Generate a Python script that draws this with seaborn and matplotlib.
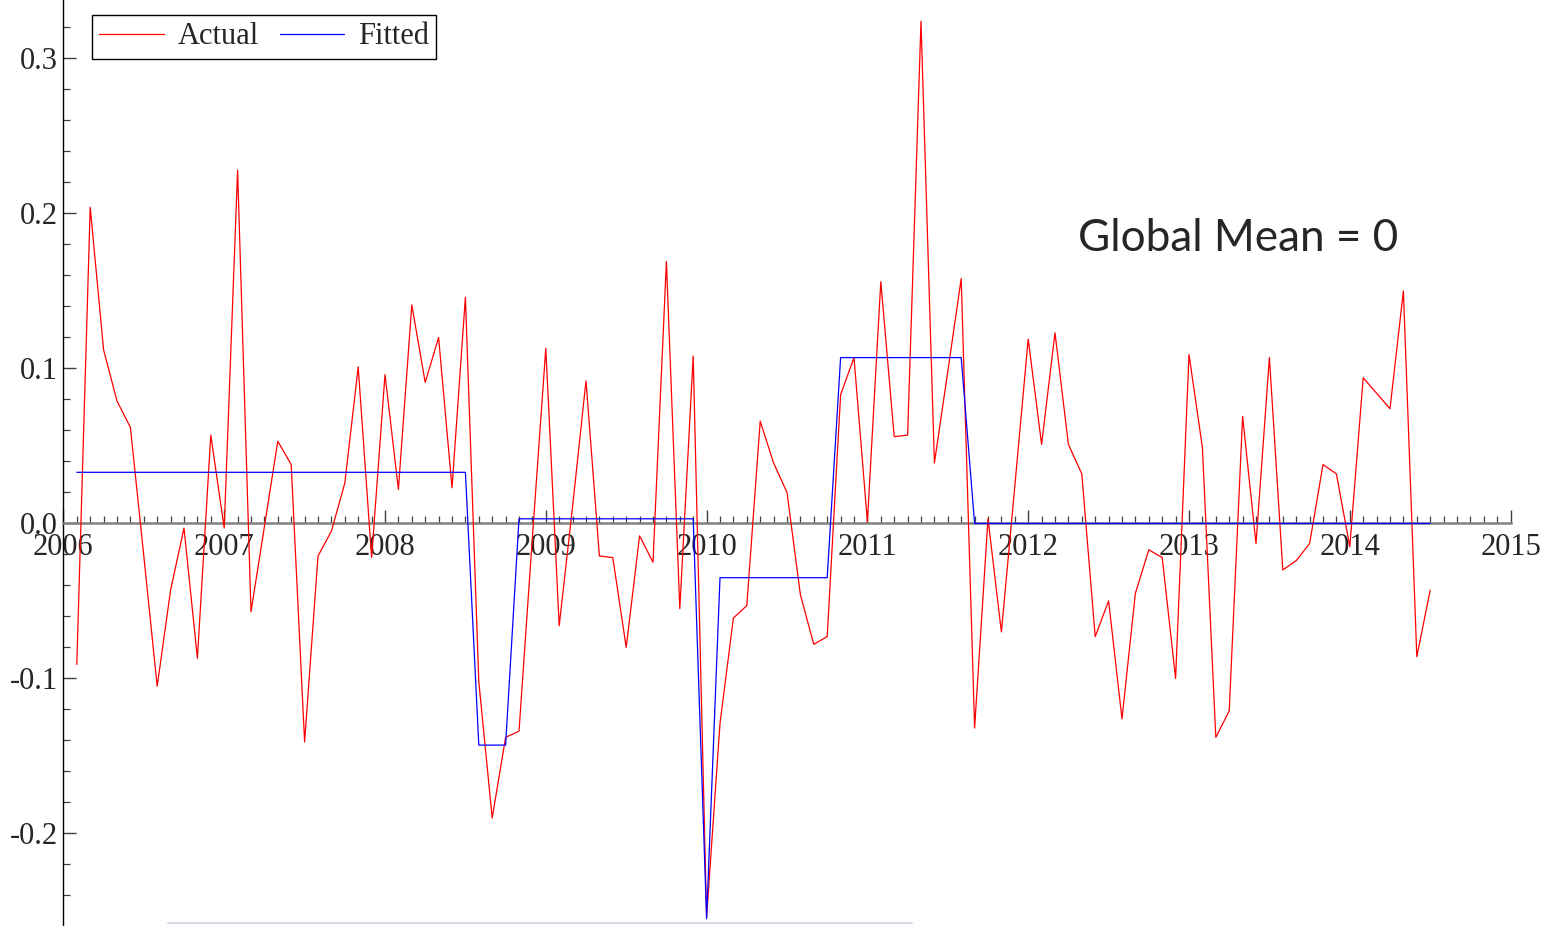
import numpy as np
import pandas as pd
import matplotlib.pyplot as plt
import matplotlib.ticker as ticker
import matplotlib.lines as lines
import seaborn as sns

# monthly observations, Feb 2006 .. Jul 2014
dates = pd.date_range("2006-02-01", periods=102, freq="MS")

actual = [-0.091, 0.204, 0.112, 0.079, 0.062, -0.021, -0.105, -0.043, -0.003, -0.087,
          0.057, -0.003, 0.228, -0.057, -0.002, 0.053, 0.038, -0.141, -0.021, -0.005,
          0.026, 0.101, -0.022, 0.096, 0.022, 0.141, 0.091, 0.120, 0.023, 0.146,
          -0.102, -0.190, -0.138, -0.134, -0.009, 0.113, -0.066, 0.011, 0.092, -0.021,
          -0.022, -0.080, -0.008, -0.025, 0.169, -0.055, 0.108, -0.254, -0.129, -0.061,
          -0.053, 0.066, 0.039, 0.020, -0.046, -0.078, -0.073, 0.083, 0.107, 0.001,
          0.156, 0.056, 0.057, 0.324, 0.039, 0.098, 0.158, -0.132, 0.003, -0.070,
          0.024, 0.119, 0.051, 0.123, 0.051, 0.032, -0.073, -0.050, -0.126, -0.045,
          -0.017, -0.022, -0.100, 0.109, 0.049, -0.138, -0.121, 0.069, -0.013, 0.107,
          -0.030, -0.024, -0.013, 0.038, 0.032, -0.015, 0.094, 0.084, 0.074, 0.150,
          -0.086, -0.043]

# fitted regime means and how many months each regime lasts
fit_levels = [0.033, -0.143, 0.003, -0.255, -0.035, 0.107, 0.0]
fit_lengths = [30, 3, 14, 1, 9, 10, 35]

year_ticks = list(range(2006, 2016))
y_ticks = [-0.2, -0.1, 0.0, 0.1, 0.2, 0.3]

t = dates.year + (dates.month - 1) / 12.0
df = pd.DataFrame({"t": t,
                   "Actual": actual,
                   "Fitted": np.repeat(fit_levels, fit_lengths)})

sns.set_style("ticks")
plt.rcParams["font.family"] = ["Liberation Serif", "DejaVu Serif"]
plt.rcParams["axes.unicode_minus"] = False

W, H = 1549, 926
fig = plt.figure(figsize=(W / 100, H / 100), dpi=100)
ax = fig.add_axes([63.4 / W, 0.0, (1510.6 - 63.4) / W, 1.0])

sns.lineplot(data=df, x="t", y="Actual", color="red", lw=0.9, ax=ax, label="Actual", zorder=3)
sns.lineplot(data=df, x="t", y="Fitted", color="blue", lw=0.9, ax=ax, label="Fitted", zorder=4)

ax.set_xlim(2006, 2015)
ax.set_ylim(-0.2597, 0.3377)
ax.set_xlabel("")
ax.set_ylabel("")

# spines: x axis sits on zero
for s in ["top", "right"]:
    ax.spines[s].set_visible(False)
ax.spines["bottom"].set_position(("data", 0))
ax.spines["bottom"].set_color("#808080")
ax.spines["bottom"].set_linewidth(1.8)
ax.spines["left"].set_color("black")
ax.spines["left"].set_linewidth(1.0)

ax.xaxis.set_major_locator(ticker.FixedLocator(year_ticks))
ax.xaxis.set_minor_locator(ticker.MultipleLocator(1 / 12))
ax.yaxis.set_major_locator(ticker.FixedLocator(y_ticks))
ax.yaxis.set_minor_locator(ticker.MultipleLocator(0.02))
ax.yaxis.set_major_formatter(ticker.FormatStrFormatter("%.1f"))

ax.tick_params(axis="x", which="major", direction="in", length=9.5, width=1.0,
               color="#404040", labelsize=22, pad=7)
ax.tick_params(axis="x", which="minor", direction="in", length=5, width=0.9, color="#404040")
ax.tick_params(axis="y", which="major", direction="in", length=9.5, width=1.0,
               color="#404040", labelsize=22, pad=4)
ax.tick_params(axis="y", which="minor", direction="in", length=5, width=0.9, color="#404040")

leg = ax.legend(loc="upper left", bbox_to_anchor=(92 / W, 1 - 15 / H),
                bbox_transform=fig.transFigure, ncol=2, fontsize=22, frameon=True,
                fancybox=False, framealpha=1, borderaxespad=0, borderpad=0.24,
                handlelength=2.1, handletextpad=0.45, columnspacing=0.7)
leg.get_frame().set_edgecolor("black")
leg.get_frame().set_linewidth(1.0)

fig.text(1078 / W, 1 - 238 / H, "Global Mean = 0", fontsize=31.8,
         family=["Lato", "DejaVu Sans"], ha="left", va="center")

# faint border strip at the bottom of the screenshot
fig.add_artist(lines.Line2D([168 / W, 912 / W], [3 / H, 3 / H], color="#d3dbe6", lw=1.5))

fig.savefig("out.png", dpi=100)
